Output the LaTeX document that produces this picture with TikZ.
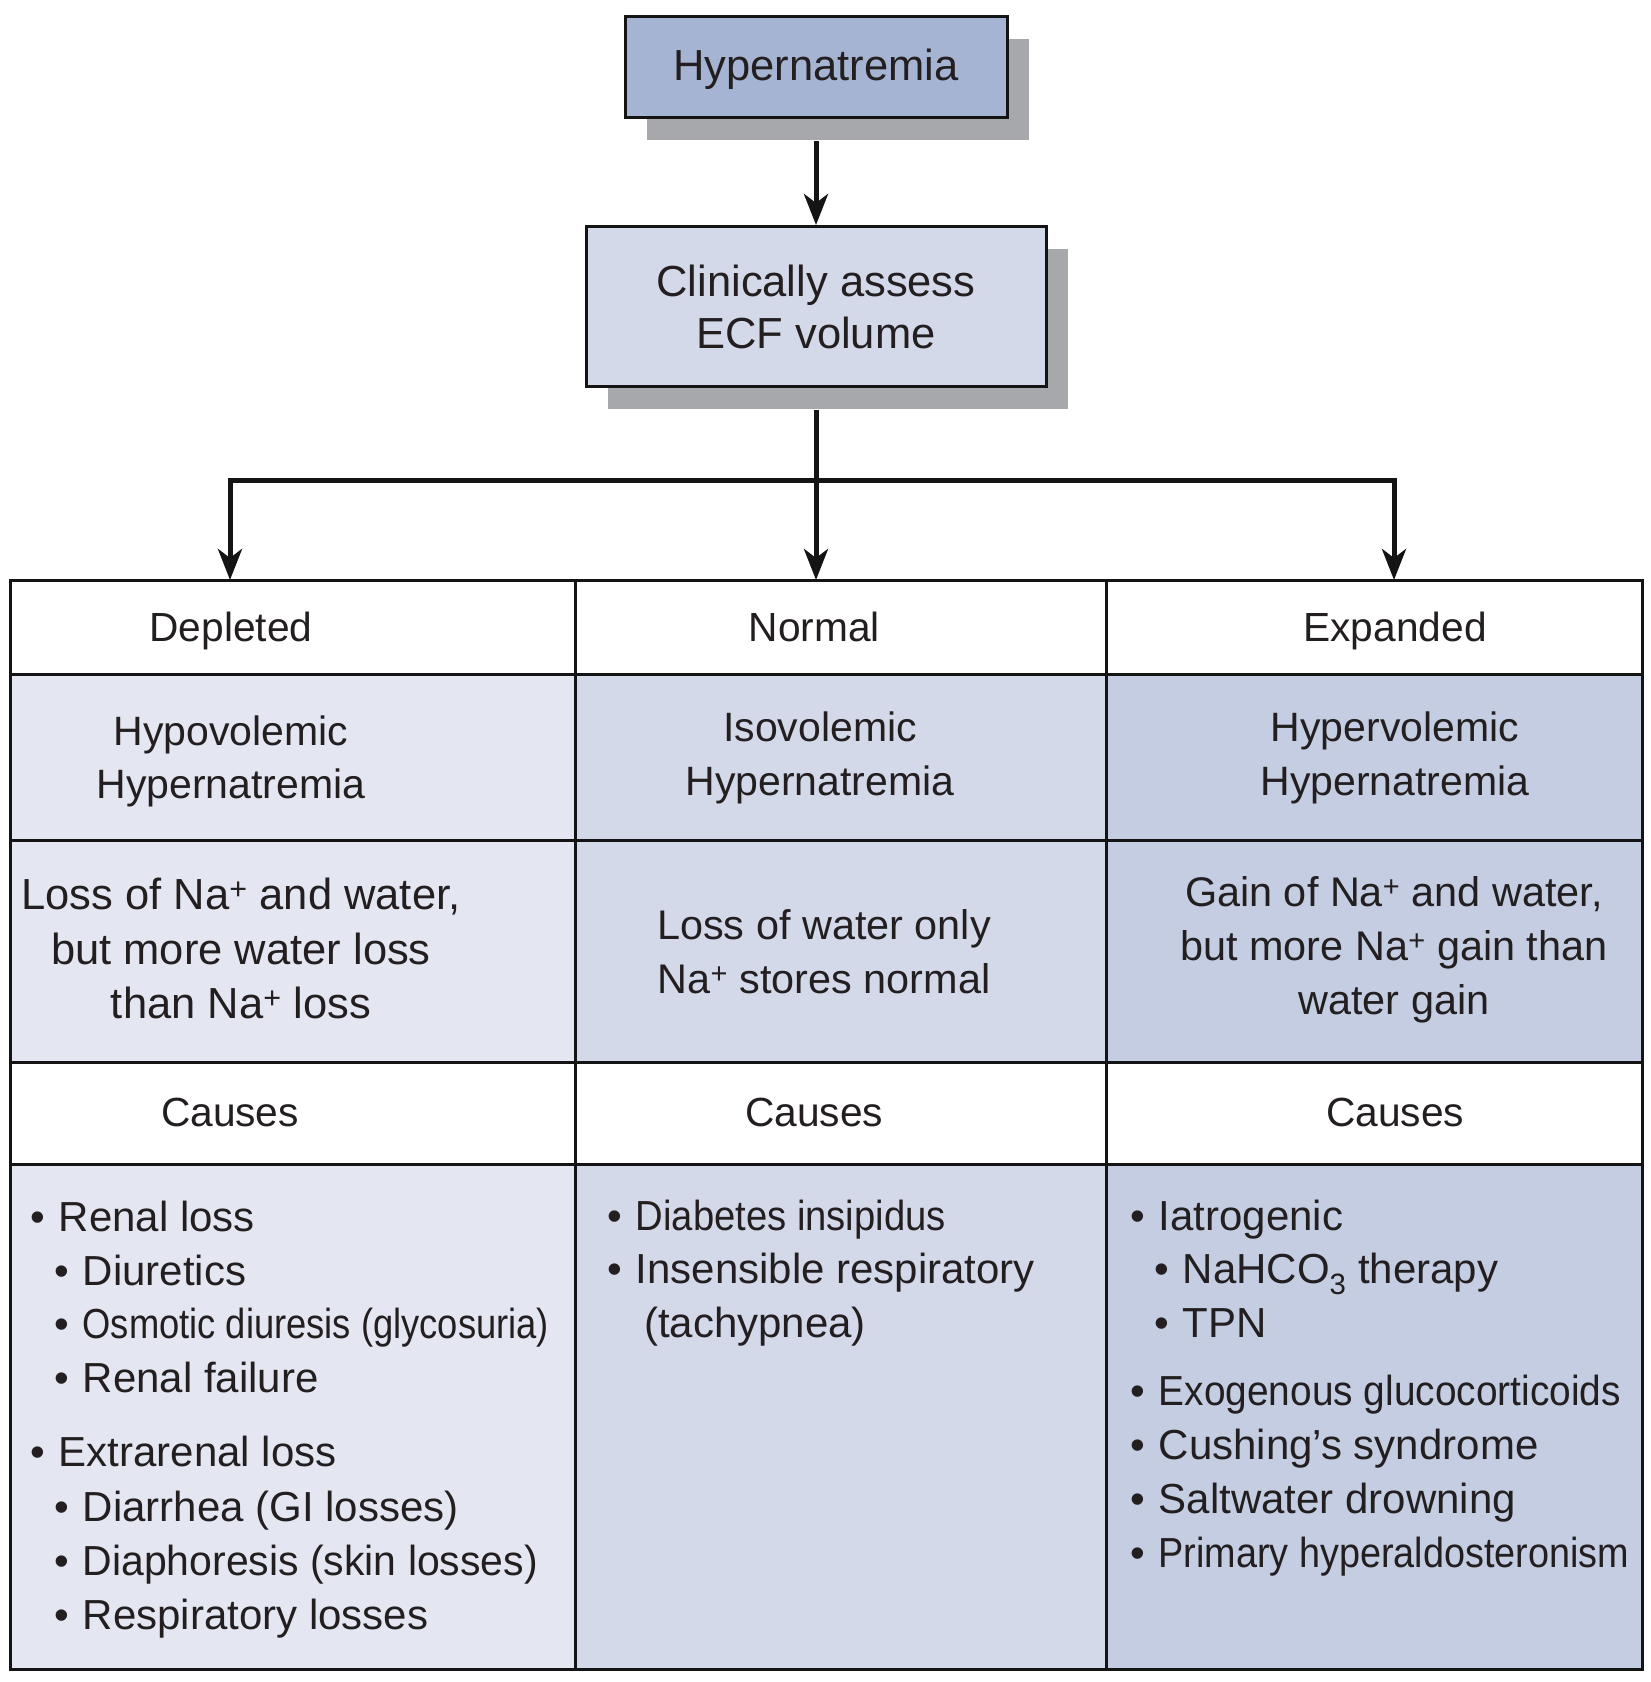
\documentclass[tikz,border=0pt]{standalone}
\usepackage{fontspec}
\usepackage{graphicx}
\setmainfont{Liberation Sans}
\usetikzlibrary{arrows.meta,shadows}
\definecolor{txt}{HTML}{231F20}
\definecolor{linec}{HTML}{141414}
\definecolor{hypfill}{HTML}{A6B4D3}
\definecolor{clinfill}{HTML}{D4D9EA}
\definecolor{shadowc}{HTML}{A7A8AC}
\definecolor{colA}{HTML}{E4E7F2}
\definecolor{colB}{HTML}{D4D9EA}
\definecolor{colC}{HTML}{C4CDE1}
\newcommand{\boxfont}{\fontsize{43.5}{52}\selectfont}
\newcommand{\hdfont}{\fontsize{40.7}{54}\selectfont}
\newcommand{\rtwofont}{\fontsize{41}{54}\selectfont}
\newcommand{\rthreefont}{\fontsize{41.4}{54}\selectfont}
\newcommand{\rthreebig}{\fontsize{43.5}{54}\selectfont}
\newcommand{\bodyfont}{\fontsize{42}{54}\selectfont}
\newcommand{\bul}{\makebox[28.5pt][l]{\textbullet}}
\begin{document}
\begin{tikzpicture}[x=1pt,y={(0pt,-1pt)},
  boxbase/.style={draw=linec, line width=3pt, inner sep=0pt, text=txt, font=\boxfont,
    drop shadow={shadow xshift=22pt, shadow yshift=-22pt, fill=shadowc, opacity=1}},
  hypbox/.style={boxbase, fill=hypfill, minimum width=382pt, minimum height=101pt,
    text height=35pt, text depth=9pt},
  clinbox/.style={boxbase, fill=clinfill, minimum width=460pt, minimum height=160pt, align=center},
  conn/.style={line width=5pt, draw=linec},
  tip/.style={-{Stealth[length=31pt,width=24pt,inset=9pt]}},
  grid/.style={line width=3pt, draw=linec},
  ctext/.style={inner sep=0pt, text=txt, anchor=base},
  hd/.style={ctext, font=\hdfont},
  rtwo/.style={ctext, font=\rtwofont},
  rthree/.style={ctext, font=\rthreefont},
  rthreeL/.style={ctext, font=\rthreebig},
  item/.style={inner sep=0pt, text=txt, anchor=base west, font=\bodyfont}
]
\useasboundingbox (0,0) rectangle (1650,1682);
\fill[white] (0,0) rectangle (1650,1682);

% top boxes
\node[hypbox] (hyp) at (816,67) {Hypernatremia};
\node[clinbox] (clin) at (816,306.5) {Clinically assess\\ECF volume};

% table fills
\fill[colA] (10,674) rectangle (575,1062);
\fill[colB] (575,674) rectangle (1106,1062);
\fill[colC] (1106,674) rectangle (1642,1062);
\fill[colA] (10,1164) rectangle (575,1669);
\fill[colB] (575,1164) rectangle (1106,1669);
\fill[colC] (1106,1164) rectangle (1642,1669);

% table grid
\draw[grid] (10,580) rectangle (1642,1669);
\draw[grid] (10,674) -- (1642,674);
\draw[grid] (10,840) -- (1642,840);
\draw[grid] (10,1062) -- (1642,1062);
\draw[grid] (10,1164) -- (1642,1164);
\draw[grid] (575,580) -- (575,1669);
\draw[grid] (1106,580) -- (1106,1669);

% connectors
\coordinate (split) at (816,480);
\coordinate (aD) at (230,580);
\coordinate (aN) at (816,580);
\coordinate (aE) at (1394,580);
\draw[conn,tip] ([yshift=-22pt]hyp.south) -- (clin.north);
\draw[conn] ([yshift=-22pt]clin.south) -- (split);
\draw[conn,tip] (split) -| (aD);
\draw[conn,tip] (split) -- (aN);
\draw[conn,tip] (split) -| (aE);

% header row
\node[hd] (depl) at (231,641.7) {Depleted};
\node[hd] (norm) at (814.3,641.7) {Normal};
\node[hd] (expd) at (1395,641.7) {Expanded};

% row 2
\node[rtwo] (hypoA) at (231,745) {Hypovolemic};
\node[rtwo] (hypoB) at (231,798) {Hypernatremia};
\node[rtwo] (isoA) at (820,741.7) {Isovolemic};
\node[rtwo] (isoB) at (820,795) {Hypernatremia};
\node[rtwo] (hyperA) at (1395,741.7) {Hypervolemic};
\node[rtwo] (hyperB) at (1395,795) {Hypernatremia};

% row 3
\node[rthreeL] (dA) at (241,909) {Loss of Na\textsuperscript{+} and water,};
\node[rthreeL] (dB) at (241,964) {but more water loss};
\node[rthreeL] (dC) at (241,1018) {than Na\textsuperscript{+} loss};
\node[rthree] (nA) at (824,939) {Loss of water only};
\node[rthree] (nB) at (824,993) {Na\textsuperscript{+} stores normal};
\node[rthree] (eA) at (1394,906) {Gain of Na\textsuperscript{+} and water,};
\node[rthree] (eB) at (1394,960) {but more Na\textsuperscript{+} gain than};
\node[rthree] (eC) at (1394,1014) {water gain};

% row 4
\node[hd] (cD) at (230,1126) {Causes};
\node[hd] (cN) at (814,1126) {Causes};
\node[hd] (cE) at (1395,1126) {Causes};

% causes: depleted
\node[item] (l1) at (30,1231) {\bul Renal loss};
\node[item] (l2) at (54,1285) {\bul Diuretics};
\node[item] (l3) at (54,1338) {\bul\scalebox{0.865}[1]{Osmotic diuresis (glycosuria)}};
\node[item] (l4) at (54,1392) {\bul Renal failure};
\node[item] (l5) at (30,1466) {\bul Extrarenal loss};
\node[item] (l6) at (54,1521) {\bul Diarrhea (GI losses)};
\node[item] (l7) at (54,1575) {\bul\scalebox{0.975}[1]{Diaphoresis (skin losses)}};
\node[item] (l8) at (54,1629) {\bul Respiratory losses};

% causes: normal
\node[item] (m1) at (607,1230) {\bul\scalebox{0.91}[1]{Diabetes insipidus}};
\node[item] (m2) at (607,1283) {\bul Insensible respiratory};
\node[item] (m3) at (644,1337) {(tachypnea)};

% causes: expanded
\node[item] (r1) at (1130,1230) {\bul Iatrogenic};
\node[item] (r2) at (1154,1283) {\bul NaHCO\textsubscript{3} therapy};
\node[item] (r3) at (1154,1337) {\bul TPN};
\node[item] (r4) at (1130,1405) {\bul\scalebox{0.925}[1]{Exogenous glucocorticoids}};
\node[item] (r5) at (1130,1459) {\bul Cushing’s syndrome};
\node[item] (r6) at (1130,1513) {\bul Saltwater drowning};
\node[item] (r7) at (1130,1567) {\bul\scalebox{0.90}[1]{Primary hyperaldosteronism}};
\end{tikzpicture}
\end{document}
